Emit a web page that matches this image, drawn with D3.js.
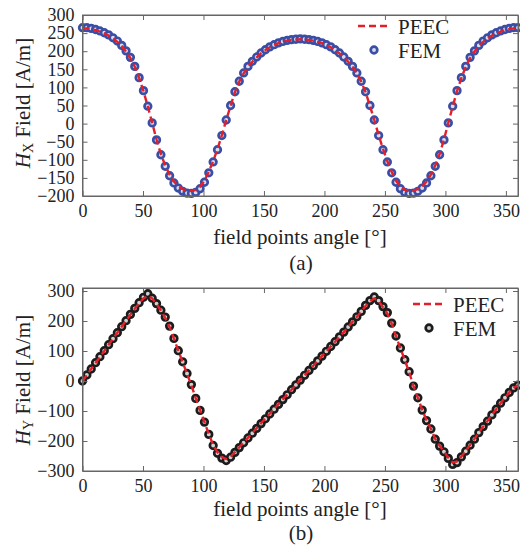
<!DOCTYPE html>
<html>
<head>
<meta charset="utf-8">
<script src="https://cdn.jsdelivr.net/npm/d3@7"></script>
<style>
  body { margin: 0; background: #fff; }
  text { font-family: "Liberation Serif", "Times New Roman", serif; fill: #222; }
</style>
</head>
<body>
<svg id="chart" width="520" height="548"></svg>
<script>
// field point angles, degrees
var angles = [0,3.6,7.2,10.8,14.4,18,21.6,25.2,28.8,32.4,36,39.6,43.2,46.8,50.4,54,57.6,61.2,64.8,68.4,
  72,75.6,79.2,82.8,86.4,90,93.6,97.2,100.8,104.4,108,111.6,115.2,118.8,122.4,126,129.6,133.2,136.8,140.4,
  144,147.6,151.2,154.8,158.4,162,165.6,169.2,172.8,176.4,180,183.6,187.2,190.8,194.4,198,201.6,205.2,208.8,212.4,
  216,219.6,223.2,226.8,230.4,234,237.6,241.2,244.8,248.4,252,255.6,259.2,262.8,266.4,270,273.6,277.2,280.8,284.4,
  288,291.6,295.2,298.8,302.4,306,309.6,313.2,316.8,320.4,324,327.6,331.2,334.8,338.4,342,345.6,349.2,352.8,356.4,360];

// (a) Hx
var hxFem = [265,265,263,260,256,251,245,237,228,216,201,183,158,127,91,48,2,-45,-86,-118,
  -144,-164,-178,-187,-192,-193,-190,-180,-162,-136,-106,-72,-33,10,50,88,117,140,158,172,
  184,195,204,212,218,223,227,230,232,233,234,233,232,230,227,223,218,212,204,195,
  184,172,158,140,117,88,50,10,-33,-72,-106,-136,-162,-180,-190,-193,-192,-187,-178,-164,
  -144,-118,-86,-45,2,48,91,127,158,183,201,216,228,237,245,251,256,260,263,265,265];
var hxPeec = [263,263,261,258,254,249,243,235,226,214,199,181,157,126,90,47,2,-44,-84,-116,
  -141,-160,-173,-181,-185,-186,-183,-174,-158,-133,-104,-70,-32,10,49,87,116,139,157,171,
  183,194,203,211,217,222,226,229,231,232,233,232,231,229,226,222,217,211,203,194,
  183,171,157,139,116,87,49,10,-32,-70,-104,-133,-158,-174,-183,-186,-185,-181,-173,-160,
  -141,-116,-84,-44,2,47,90,126,157,181,199,214,226,235,243,249,254,258,261,263,263];

// (b) Hy
var hyFem = [0,20,40,61,81,101,121,141,161,181,201,222,242,261,279,291,276,258,236,213,
  183,142,101,64,25,-12,-58,-98,-137,-178,-215,-241,-257,-265,-254,-238,-222,-206,-190,-174,
  -158,-142,-126,-110,-94,-78,-62,-46,-29,-13,3,19,35,51,67,83,99,115,131,147,
  163,180,197,214,232,252,268,280,268,248,228,193,150,110,71,31,-17,-56,-97,-132,
  -160,-194,-217,-236,-258,-278,-272,-253,-234,-214,-194,-172,-152,-134,-113,-94,-74,-56,-38,-23,-14];
var hyPeec = [0,20,40,60,80,100,121,141,161,181,201,221,241,259,275,284,275,257,235,210,
  180,141,101,63,24,-14,-57,-97,-137,-177,-213,-238,-254,-260,-252,-237,-221,-205,-189,-173,
  -157,-141,-125,-109,-93,-77,-61,-45,-29,-13,3,19,35,51,67,83,99,115,131,147,
  163,180,197,214,231,250,265,275,266,246,225,191,149,109,70,30,-17,-56,-96,-131,
  -160,-193,-216,-235,-256,-272,-268,-252,-233,-213,-193,-172,-152,-133,-113,-94,-74,-56,-38,-23,-14];

var xTicks = [0,50,100,150,200,250,300,350];
var hxTicks = [300,250,200,150,100,50,0,-50,-100,-150,-200];
var hyTicks = [300,200,100,0,-100,-200,-300];

var svg = d3.select("#chart");
svg.append("rect").attr("width", 520).attr("height", 548).attr("fill", "#fff");

var x = d3.scaleLinear().domain([0, 360]).range([82.5, 518]);

function drawPanel(cfg){
	var y = d3.scaleLinear().domain(cfg.yDomain).range([cfg.bottom, cfg.top]);
	var g = svg.append("g");

	// markers first, dashed line goes over them
	g.append("g").selectAll("circle")
	.data(angles)
	.enter()
	.append("circle")
	.attr("cx", function(d){ return x(d); })
	.attr("cy", function(d, i){ return y(cfg.fem[i]); })
	.attr("r", 3.3)
	.attr("fill", cfg.hole)
	.attr("stroke", cfg.markColor)
	.attr("stroke-width", 2.7);

	var line = d3.line()
	.x(function(d){ return x(d); })
	.y(function(d, i){ return y(cfg.peec[i]); });

	g.append("path")
	.datum(angles)
	.attr("d", line)
	.attr("fill", "none")
	.attr("stroke", "#e3202a")
	.attr("stroke-width", 2.4)
	.attr("stroke-dasharray", "7,4");

	// box with inward ticks on all four sides (matlab style)
	var axes = [
		{ax: d3.axisBottom(x).tickValues(xTicks), t: "translate(0," + cfg.bottom + ")", labels: true},
		{ax: d3.axisTop(x).tickValues(xTicks), t: "translate(0," + cfg.top + ")", labels: false},
		{ax: d3.axisLeft(y).tickValues(cfg.yTicks), t: "translate(82.5,0)", labels: true},
		{ax: d3.axisRight(y).tickValues(cfg.yTicks), t: "translate(518,0)", labels: false}
	];
	axes.forEach(function(a){
		a.ax.tickSizeInner(-5).tickSizeOuter(0).tickPadding(8);
		var ag = g.append("g").attr("transform", a.t).call(a.ax);
		ag.select(".domain").attr("stroke", "#666");
		ag.selectAll(".tick line").attr("stroke", "#666");
		ag.selectAll(".tick text")
		.attr("font-family", "Liberation Serif")
		.attr("font-size", 18)
		.attr("fill", "#222")
		.style("display", a.labels ? null : "none");
	});
	g.append("rect")
	.attr("x", 82.5).attr("y", cfg.top)
	.attr("width", 518 - 82.5).attr("height", cfg.bottom - cfg.top)
	.attr("fill", "none").attr("stroke", "#666");

	// y label
	var yl = g.append("text")
	.attr("transform", "translate(30," + cfg.yLabelMid + ") rotate(-90)")
	.attr("text-anchor", "middle")
	.attr("font-size", 21);
	yl.append("tspan").attr("font-style", "italic").text("H");
	yl.append("tspan").attr("font-size", 14).attr("dy", 3).text(cfg.sub);
	yl.append("tspan").attr("dy", -3).text(" Field [A/m]");

	g.append("text")
	.attr("x", 300).attr("y", cfg.bottom + cfg.labelGap)
	.attr("text-anchor", "middle").attr("font-size", 21)
	.text("field points angle [\u00b0]");

	g.append("text")
	.attr("x", 301).attr("y", cfg.bottom + cfg.tagGap)
	.attr("text-anchor", "middle").attr("font-size", 21)
	.text(cfg.tag);

	// legend
	var lg = g.append("g").attr("transform", "translate(" + cfg.legend[0] + "," + cfg.legend[1] + ")");
	lg.append("line")
	.attr("x1", 0).attr("x2", 32).attr("y1", 0).attr("y2", 0)
	.attr("stroke", "#e3202a").attr("stroke-width", 2.4).attr("stroke-dasharray", "7,4");
	lg.append("text").attr("x", 40).attr("y", 8).attr("font-size", 21).text("PEEC");
	lg.append("circle")
	.attr("cx", 16).attr("cy", 24).attr("r", 3.3)
	.attr("fill", cfg.hole).attr("stroke", cfg.markColor).attr("stroke-width", 2.7);
	lg.append("text").attr("x", 40).attr("y", 32).attr("font-size", 21).text("FEM");
}

drawPanel({
	fem: hxFem, peec: hxPeec,
	yDomain: [-200, 300], yTicks: hxTicks,
	top: 15, bottom: 196,
	markColor: "#3a4ea5", hole: "#d8dcef",
	sub: "X", yLabelMid: 103, tag: "(a)", labelGap: 48, tagGap: 74,
	legend: [358, 26]
});

drawPanel({
	fem: hyFem, peec: hyPeec,
	yDomain: [-300, 310], yTicks: hyTicks,
	top: 288, bottom: 471,
	markColor: "#1c1c1c", hole: "#d0d0d0",
	sub: "Y", yLabelMid: 380, tag: "(b)", labelGap: 45, tagGap: 69,
	legend: [413, 304]
});
</script>
</body>
</html>
